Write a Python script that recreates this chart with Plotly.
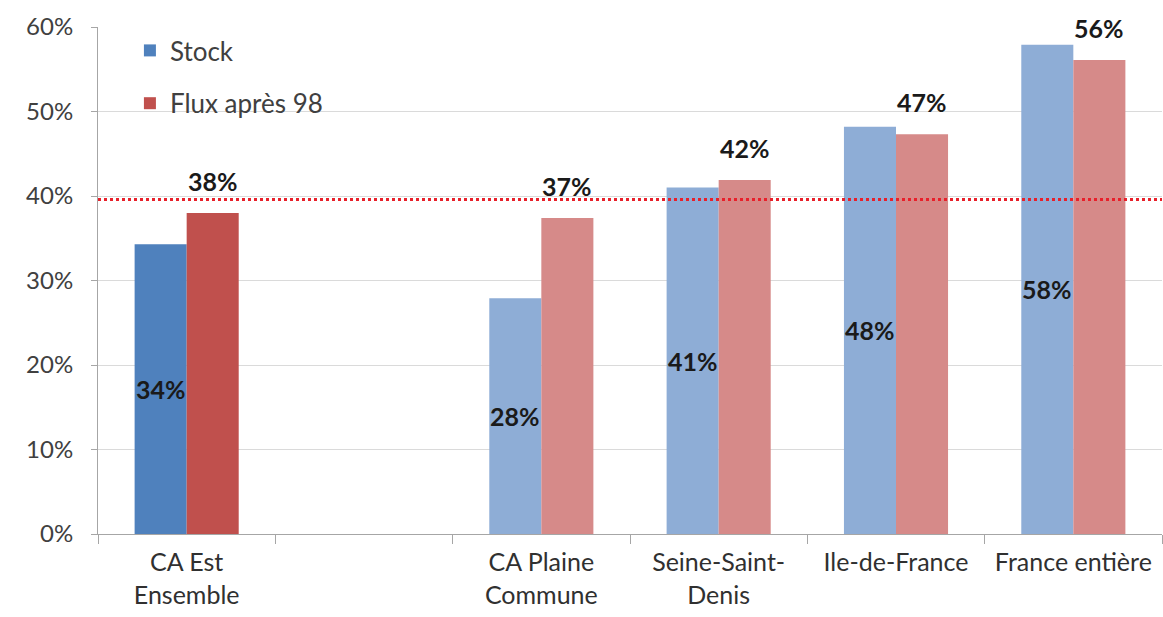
import plotly.graph_objects as go

# ---- data ----
categories = ["CA Est<br>Ensemble", " ", "CA Plaine<br>Commune", "Seine-Saint-<br>Denis",
              "Ile-de-France", "France entière"]
stock = [0.343, None, 0.279, 0.41, 0.482, 0.579]
flux = [0.38, None, 0.374, 0.419, 0.473, 0.561]
stock_labels = ["34%", "", "28%", "41%", "48%", "58%"]
flux_labels = ["38%", "", "37%", "42%", "47%", "56%"]
reference_level = 0.396
y_ticks = [0, 0.1, 0.2, 0.3, 0.4, 0.5, 0.6]
y_tick_labels = ["0%", "10%", "20%", "30%", "40%", "50%", "60%"]

# ---- styles ----
stock_colors = ["#4F81BD", "#4F81BD", "#8EADD6", "#8EADD6", "#8EADD6", "#8EADD6"]
flux_colors = ["#C0504D", "#C0504D", "#D68A89", "#D68A89", "#D68A89", "#D68A89"]
FONT = "Lato, 'Open Sans', sans-serif"
LABEL_FONT = "Lato, 'Open Sans', sans-serif"

fig = go.Figure()
fig.add_trace(go.Bar(
    x=categories, y=stock, name="Stock", marker=dict(color=stock_colors, line=dict(width=0)),
    legendgroup="a", hoverinfo="skip",
))
fig.add_trace(go.Bar(
    x=categories, y=flux, name="Flux après 98", marker=dict(color=flux_colors, line=dict(width=0)),
    legendgroup="b", hoverinfo="skip",
))

# Stock labels: centred inside the bar
for c, v, t in zip(categories, stock, stock_labels):
    if v is None:
        continue
    fig.add_annotation(
        x=c, y=v / 2, text=f"<b>{t}</b>", showarrow=False, xshift=-26,
        yanchor="middle", xanchor="center",
        font=dict(family=LABEL_FONT, size=25, color="#1a1a1a"),
    )

# Flux labels: above the bar
for c, v, t in zip(categories, flux, flux_labels):
    if v is None:
        continue
    fig.add_annotation(
        x=c, y=v, text=f"<b>{t}</b>", showarrow=False, xshift=26, yshift=15,
        yanchor="bottom", xanchor="center",
        font=dict(family=LABEL_FONT, size=25, color="#1a1a1a"),
    )

fig.add_shape(type="line", xref="paper", x0=0, x1=1, yref="y", y0=reference_level,
              y1=reference_level, line=dict(color="#E8202A", width=3, dash="dot"))

fig.update_layout(
    width=1163, height=617,
    margin=dict(l=98, r=1, t=27, b=83),
    paper_bgcolor="white", plot_bgcolor="white",
    barmode="group", bargap=0.413, bargroupgap=0,
    font=dict(family=FONT, size=24, color="#404040"),
    showlegend=True,
    legend=dict(x=0.03, y=1.0, xanchor="left", yanchor="top", bgcolor="rgba(0,0,0,0)",
                font=dict(family=FONT, size=26, color="#404040"),
                traceorder="grouped", tracegroupgap=16, itemwidth=30),
    xaxis=dict(
        type="category", tickson="boundaries", ticks="outside", ticklen=9,
        tickcolor="#A6A6A6", showline=True, linecolor="#A6A6A6", linewidth=1,
        showgrid=False, tickfont=dict(family=FONT, size=25, color="#303030"),
        ticklabelstandoff=6,
    ),
    yaxis=dict(
        range=[0, 0.6], tickvals=y_ticks, ticktext=y_tick_labels,
        showgrid=True, gridcolor="#DADADA", gridwidth=1,
        showline=True, linecolor="#A6A6A6", linewidth=1,
        ticks="outside", ticklen=6, tickcolor="#A6A6A6",
        tickfont=dict(family=FONT, size=24, color="#404040"),
        zeroline=False, ticklabelstandoff=13,
    ),
)

fig.write_html("out.html")
